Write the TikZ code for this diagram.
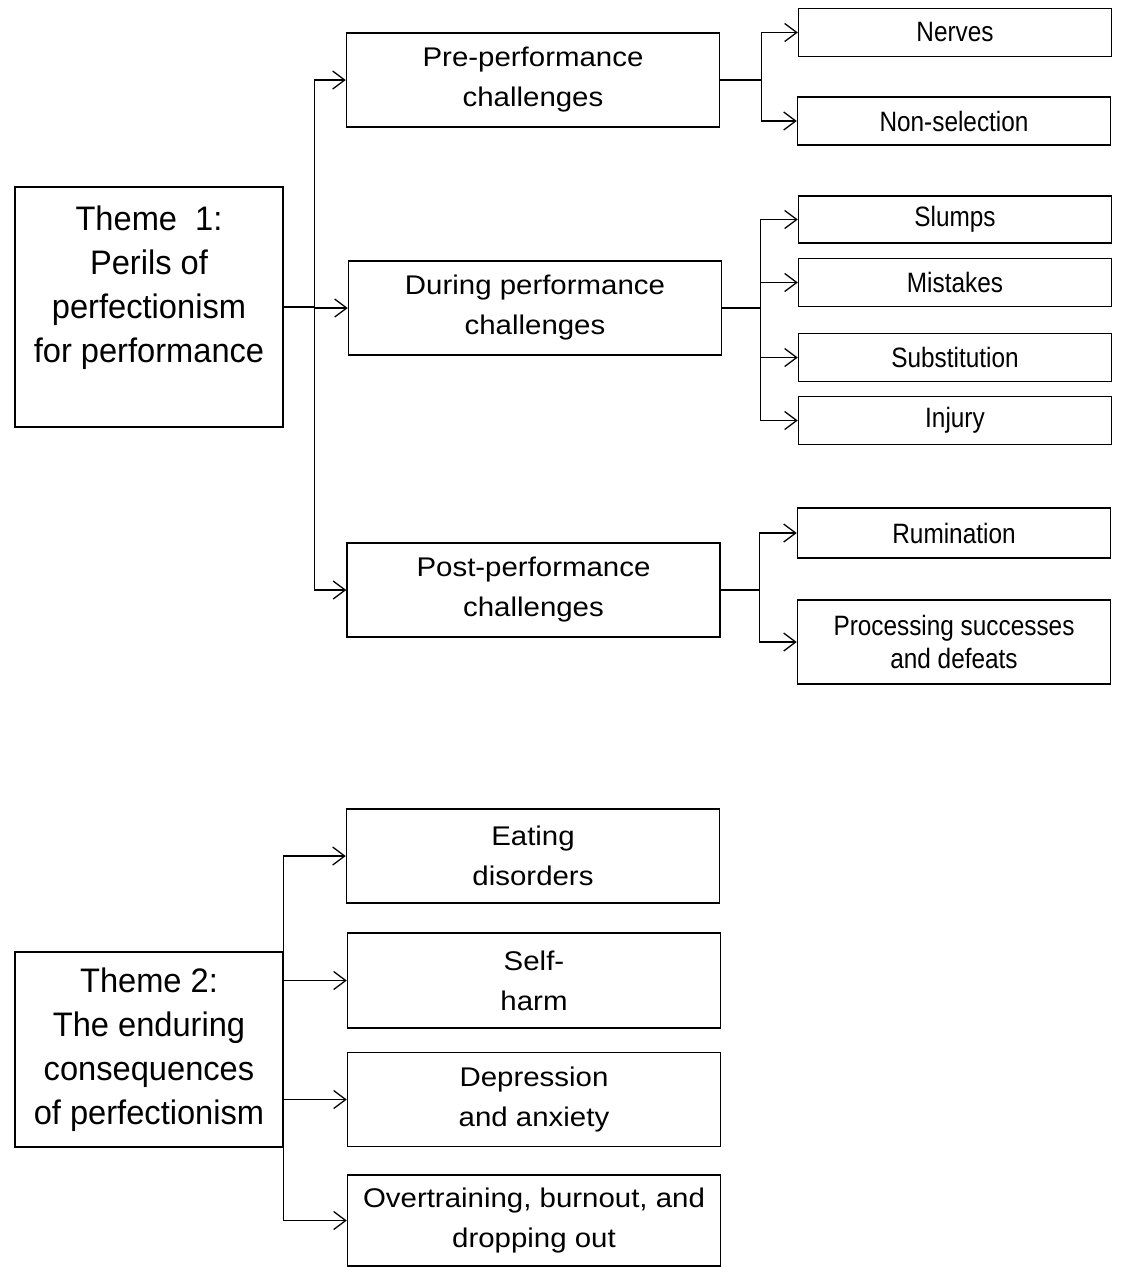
\documentclass[tikz,border=0pt]{standalone}
\usepackage{fontspec}
\setmainfont{Liberation Sans}
\newfontfamily\themefont[FakeStretch=0.96]{Liberation Sans}
\newfontfamily\midfont[FakeStretch=1.09]{Liberation Sans}
\newfontfamily\leaffont[FakeStretch=0.87]{Liberation Sans}
\usetikzlibrary{arrows.meta,calc}

\begin{document}
\begin{tikzpicture}[x=1pt,y=-1pt,
  box/.style={draw,line width=1.5pt,align=center,inner sep=0pt},
  theme/.style={box,minimum width=268pt,font=\themefont\fontsize{34}{44}\selectfont},
  group/.style={box,minimum width=373pt,minimum height=94pt,font=\midfont\fontsize{27}{40}\selectfont},
  leaf/.style={box,minimum width=313pt,minimum height=48pt,font=\leaffont\fontsize{28}{33}\selectfont},
  link/.style={line width=1.3pt},
  arr/.style={link,-{Straight Barb[length=12pt,width=18pt]}}]
\useasboundingbox (0,0) rectangle (1120,1267);
% theme 1
\node[theme,minimum height=240pt] (t1) at (149,307) {Theme~~1:\\Perils of\\perfectionism\\for performance\\[1pt]};
\node[group] (pre) at (533,80) {Pre-performance\\challenges};
\node[group] (during) at (535,308) {During performance\\challenges};
\node[group] (post) at (533.5,590) {Post-performance\\challenges};
\node[leaf] (nerves) at (955,32.5) {Nerves};
\node[leaf] (nonsel) at (954,121) {Non-selection};
\node[leaf,minimum height=47pt] (slumps) at (955,219.5) {Slumps};
\node[leaf] (mistakes) at (955,282.5) {Mistakes};
\node[leaf] (subst) at (955,357.5) {Substitution};
\node[leaf] (injury) at (955,420.5) {Injury};
\node[leaf,minimum height=50pt] (rumin) at (954,533) {Rumination};
\node[leaf,minimum height=84pt] (proc) at (954,642) {Processing successes\\and defeats};
% theme 2
\node[theme,minimum height=195pt] (t2) at (149,1049.5) {Theme 2:\\The enduring\\consequences\\of perfectionism};
\node[group] (eat) at (533,856) {Eating\\disorders};
\node[group,minimum height=95pt] (self) at (534,980.5) {Self-\\harm};
\node[group] (dep) at (534,1099.5) {Depression\\and anxiety};
\node[group,minimum height=91pt] (over) at (534,1220.5) {Overtraining, burnout, and\\dropping out};
% connectors
\coordinate (j1) at ($(t1.east)+(31,0)$);
\coordinate (jpre) at ($(pre.east)+(41,0)$);
\coordinate (jdur) at ($(during.east)+(38,0)$);
\coordinate (jpost) at ($(post.east)+(39,0)$);
\draw[link] (t1.east) -- (j1);
\foreach \g in {pre,during,post} \draw[arr] (j1) |- (\g);
\draw[link] (pre.east) -- (jpre);
\foreach \c in {nerves,nonsel} \draw[arr] (jpre) |- (\c);
\draw[link] (during.east) -- (jdur);
\foreach \c in {slumps,mistakes,subst,injury} \draw[arr] (jdur) |- (\c);
\draw[link] (post.east) -- (jpost);
\foreach \c in {rumin,proc} \draw[arr] (jpost) |- (\c);
\foreach \c in {eat,self,dep,over} \draw[arr] (t2.east) |- (\c);
\end{tikzpicture}
\end{document}
